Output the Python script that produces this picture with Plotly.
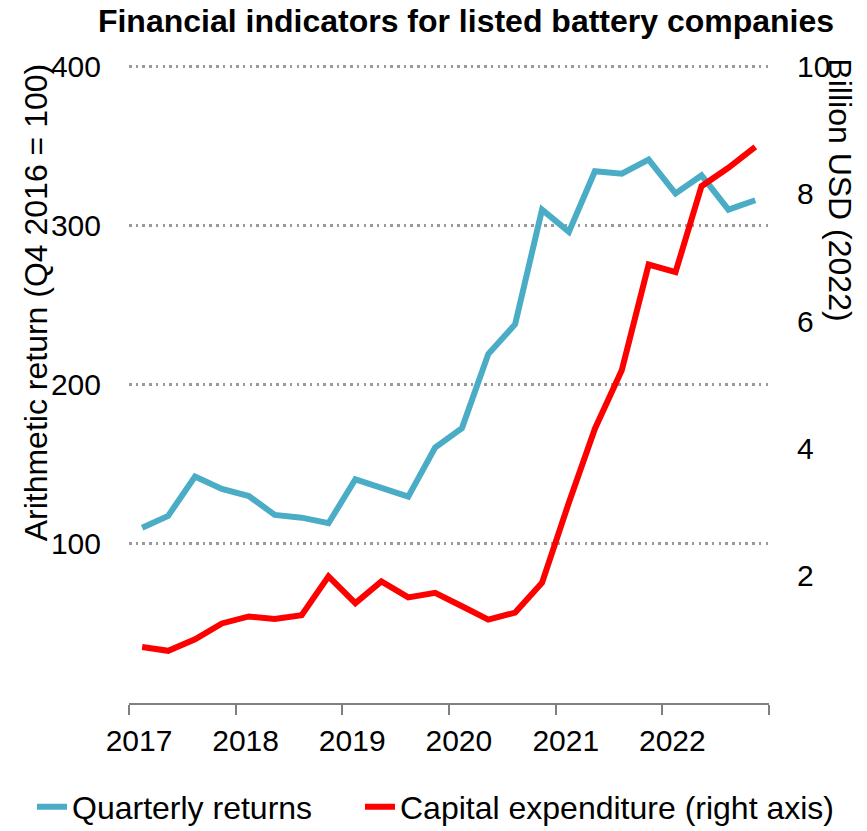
import pandas as pd
import plotly.graph_objects as go

# ---- data ----
quarters = [f"{y}-Q{q}" for y in range(2017, 2023) for q in range(1, 5)]
quarterly_returns = [110.2, 117.6, 142.3, 134.5, 130.1, 118.2, 116.5, 113.0,
                     140.6, 135.3, 129.7, 160.5, 172.8, 219.3, 238.1, 310.1,
                     296.1, 334.2, 332.7, 341.5, 320.2, 331.6, 310.1, 316.0]
capex_busd = [0.88, 0.82, 1.00, 1.25, 1.36, 1.32, 1.38, 1.99,
              1.57, 1.91, 1.66, 1.73, 1.52, 1.31, 1.42, 1.89,
              3.15, 4.31, 5.23, 6.89, 6.77, 8.12, 8.41, 8.74]
year_ticks = [2017, 2018, 2019, 2020, 2021, 2022]
left_ticks = [100, 200, 300, 400]
right_ticks = [2, 4, 6, 8, 10]


def mid_quarter(label):
    y, q = label.split("-Q")
    return pd.Timestamp(int(y), (int(q) - 1) * 3 + 2, 15)


x_dates = [mid_quarter(q) for q in quarters]

FONT = "Liberation Sans, Arial, sans-serif"
BLUE = "#4BACC6"
RED = "#FF0000"

fig = go.Figure()
fig.add_trace(go.Scatter(x=x_dates, y=quarterly_returns, mode="lines",
                         name="Quarterly returns", legend="legend",
                         line=dict(color=BLUE, width=6), yaxis="y"))
fig.add_trace(go.Scatter(x=x_dates, y=capex_busd, mode="lines",
                         name="Capital expenditure (right axis)", legend="legend2",
                         line=dict(color=RED, width=6), yaxis="y2"))

legend_common = dict(orientation="h", yanchor="middle", y=-0.163,
                     xanchor="left", font=dict(size=32, family=FONT),
                     itemwidth=30, bgcolor="rgba(0,0,0,0)", borderwidth=0)

fig.update_layout(
    width=867, height=831,
    margin=dict(l=129, r=98, t=65, b=128, autoexpand=False),
    paper_bgcolor="white", plot_bgcolor="white",
    font=dict(family=FONT, size=30, color="black"),
    title=dict(text="<b>Financial indicators for listed battery companies</b>",
               x=0.5375, xanchor="center", y=0.975, yanchor="middle",
               font=dict(family=FONT, size=32, color="black")),
    xaxis=dict(
        type="date",
        range=[pd.Timestamp(2017, 1, 1), pd.Timestamp(2023, 1, 1)],
        tickvals=[pd.Timestamp(y, 1, 1) for y in year_ticks + [2023]],
        ticktext=[str(y) for y in year_ticks] + [""],
        showline=True, linecolor="#808080", linewidth=2,
        ticks="outside", ticklen=10, tickwidth=1.5, tickcolor="#808080",
        ticklabelshift=10,
        showgrid=False, zeroline=False,
        tickfont=dict(size=30),
    ),
    yaxis=dict(
        range=[0, 401], tickvals=left_ticks,
        showgrid=True, gridcolor="#9a9a9a", gridwidth=2.5, griddash="2.5px,4.2px",
        showline=False, zeroline=False, ticks="",
        ticklabelstandoff=27,
        tickfont=dict(size=30),
    ),
    yaxis2=dict(
        range=[0, 10.025], tickvals=right_ticks,
        overlaying="y", side="right",
        showgrid=False, showline=False, zeroline=False, ticks="",
        ticklabelstandoff=27,
        tickfont=dict(size=30),
    ),
    legend=dict(legend_common, x=(32 - 129) / 640),
    legend2=dict(legend_common, x=(360 - 129) / 640),
    showlegend=True,
)

fig.add_annotation(text="Arithmetic return (Q4 2016 = 100)", textangle=-90,
                   xref="paper", yref="paper", x=-0.1453, y=0.628,
                   xanchor="center", yanchor="middle", showarrow=False,
                   font=dict(size=32))
fig.add_annotation(text="Billion USD (2022)", textangle=90,
                   xref="paper", yref="paper", x=1.111, y=0.805,
                   xanchor="center", yanchor="middle", showarrow=False,
                   font=dict(size=32))

fig.write_html(
    "out.html",
    config={"displayModeBar": False},
    post_script="document.body.style.margin='0px';document.body.style.overflow='hidden';",
)
